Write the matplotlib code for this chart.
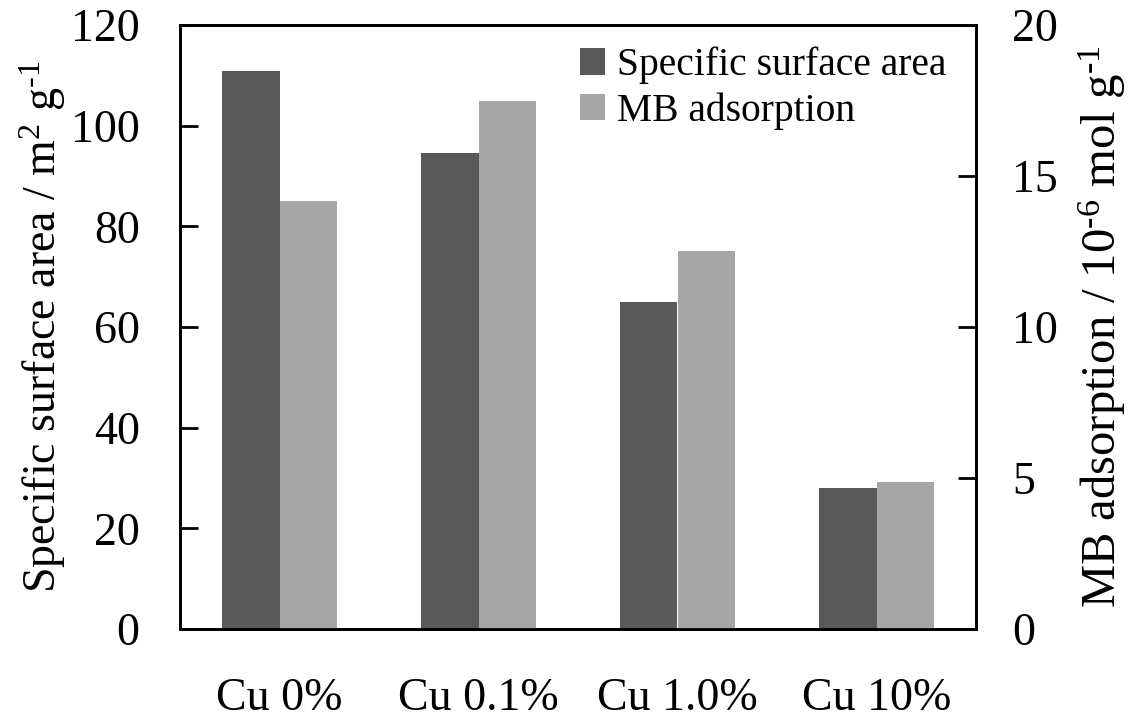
import matplotlib
matplotlib.use("Agg")
import matplotlib.pyplot as plt
import numpy as np

categories = ["Cu 0%", "Cu 0.1%", "Cu 1.0%", "Cu 10%"]
surface_area = [110.8, 94.5, 65.0, 28.0]
mb_adsorption = [14.17, 17.5, 12.5, 4.88]

plt.rcParams['font.family'] = ['Liberation Serif', 'DejaVu Serif']
plt.rcParams['mathtext.fontset'] = 'custom'
plt.rcParams['mathtext.rm'] = 'Liberation Serif'
plt.rcParams['mathtext.it'] = 'Liberation Serif'

fig = plt.figure(figsize=(11.36, 7.25), dpi=100)
ax = fig.add_axes([180/1136, 1-629/725, (976-180)/1136, (629-25)/725])
ax2 = ax.twinx()

x = np.arange(len(categories))
w = 0.287
b1 = ax.bar(x - w/2, surface_area, w, color='#595959', label='Specific surface area', zorder=2)
b2 = ax2.bar(x + w/2, mb_adsorption, w, color='#a6a6a6', label='MB adsorption', zorder=2)

ax.set_xlim(-0.5, 3.5)
ax.set_ylim(0, 120)
ax2.set_ylim(0, 20)
ax.set_yticks(np.arange(0, 121, 20))
ax2.set_yticks(np.arange(0, 21, 5))
ax.set_xticks(x)
ax.set_xticklabels(categories, fontsize=33)
ax.tick_params(axis='x', length=0, pad=35)
ax.tick_params(axis='y', direction='in', length=13, width=2, labelsize=33, pad=29)
ax2.tick_params(axis='y', direction='in', length=13, width=2, labelsize=33, pad=26)
for a in (ax, ax2):
    for s in a.spines.values():
        s.set_linewidth(2)

ax.set_ylabel(r"Specific surface area / m$^{2}$ g$^{\text{-}1}$", fontsize=33)
ax2.set_ylabel(r"MB adsorption / 10$^{\text{-}6}$ mol g$^{\text{-}1}$", fontsize=35)
ax.yaxis.set_label_coords(-0.141, 0.5)
ax2.yaxis.set_label_coords(1.126, 0.5)

ax2.legend([b1, b2], ['Specific surface area', 'MB adsorption'], loc='upper right',
           frameon=False, fontsize=28.5, handlelength=0.65, handleheight=0.65,
           handletextpad=0.3, labelspacing=0.2, borderaxespad=0.0,
           bbox_to_anchor=(0.983, 0.99))

fig.savefig("out.png", dpi=100)
